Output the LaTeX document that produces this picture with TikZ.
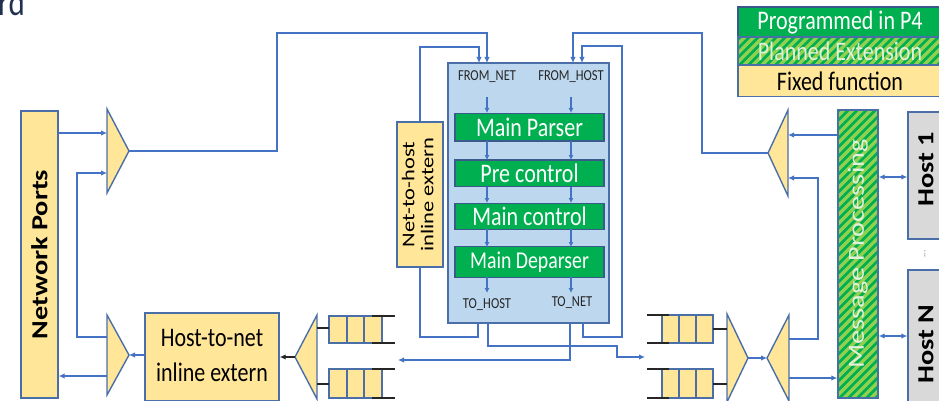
\documentclass[tikz,border=0pt]{standalone}
\usepackage{fontspec}
\setmainfont{Carlito}
\usepackage{graphicx}
\usetikzlibrary{arrows.meta}
\definecolor{ln}{HTML}{4472C4}
\definecolor{fy}{HTML}{FFE699}
\definecolor{gr}{HTML}{00B050}
\definecolor{lg}{HTML}{92D050}
\definecolor{bd}{HTML}{4A6FA8}
\definecolor{gbd}{HTML}{3A5A8C}
\definecolor{cbf}{HTML}{BDD7EE}
\definecolor{hg}{HTML}{D9D9D9}
\definecolor{lbc}{HTML}{262626}
\definecolor{ttl}{HTML}{1F3050}
\definecolor{mpt}{HTML}{E2F0D9}
\newcommand{\hs}[2]{{\fontsize{#1}{#1}\selectfont\scalebox{1}[1.22]{#2}}}
\newcommand{\vs}[2]{\rotatebox{90}{\fontsize{#1}{#1}\selectfont\scalebox{1.23}[1]{#2}}}
\tikzset{
 conn/.style={draw=ln,line width=1.6pt},
 arr/.style={conn,-{Latex[length=6pt,width=5.5pt]}},
 sarr/.style={conn,-{Latex[length=5pt,width=5pt]}},
 fixedbox/.style={draw=bd,fill=fy,line width=1.4pt,inner sep=0pt},
 greenbox/.style={draw=gbd,fill=gr,line width=1.4pt,inner sep=0pt,text=white,minimum width=149pt},
 hostbox/.style={draw=bd,fill=hg,line width=1.4pt,inner sep=0pt},
 tri/.style={fill=fy,draw=bd,line width=1.4pt},
 qcell/.style={fill=fy,draw=bd,line width=1.3pt},
 qend/.style={draw=black!85,line width=1.6pt},
 hatched/.style={fill=gr,draw=bd,line width=1.4pt,inner sep=0pt,
   path picture={\foreach \k in {-300,-291,...,220}{\draw[lg,line width=3.4pt] ([xshift=\k pt]path picture bounding box.south west) -- ++(320pt,320pt);}}},
 lbl/.style={inner sep=0pt,text=lbc},
}
\begin{document}
\begin{tikzpicture}[x=1pt,y=-1pt]
\useasboundingbox (0,0) rectangle (939,401);
\clip (0,0) rectangle (939,401);
% title fragment
\node[anchor=base west,inner sep=0pt,text=ttl] (title) at (-2,16) {\hs{31}{rd}};

% legend
\node[greenbox,minimum width=204pt,minimum height=30pt] (lg1) at (840,22) {\hs{22}{Programmed in P4}};
\node[hatched,minimum width=204pt,minimum height=28pt,text=mpt] (lg2) at (840,51) {\hs{22}{Planned Extension}};
\node[fixedbox,minimum width=204pt,minimum height=31pt] (lg3) at (840,81) {\hs{22}{Fixed function}};

% network ports
\node[fixedbox,minimum width=37pt,minimum height=287pt] (np) at (39.5,254.5) {\vs{23}{\bfseries Network Ports}};

% center box
\node[draw=bd,fill=cbf,line width=1.4pt,minimum width=161pt,minimum height=260pt,inner sep=0pt] (cb) at (528.5,193) {};
\node[lbl] (fnet) at (487,77) {\hs{12.5}{FROM\_NET}};
\node[lbl] (fhost) at (571,77) {\hs{12.5}{FROM\_HOST}};
\node[lbl] (thost) at (487,305) {\hs{12.5}{TO\_HOST}};
\node[lbl] (tnet) at (572,303) {\hs{12.5}{TO\_NET}};
\node[greenbox,minimum height=27.7pt] (mpar) at (529.5,127.2) {\hs{22}{Main Parser}};
\node[greenbox,minimum height=26.7pt] (prc) at (529.5,173.3) {\hs{22}{Pre control}};
\node[greenbox,minimum height=26pt] (mco) at (529.5,216.3) {\hs{22}{Main control}};
\node[greenbox,minimum height=30.6pt] (mdp) at (529.5,262) {\hs{19.8}{Main Deparser}};
\foreach \xx in {487,571}{
  \draw[sarr] (\xx,97) -- (\xx,113);
  \draw[sarr] (\xx,141) -- (\xx,160);
  \draw[sarr] (\xx,187) -- (\xx,203);
  \draw[sarr] (\xx,229) -- (\xx,247);
  \draw[sarr] (\xx,277) -- (\xx,293);
}

% net-to-host
\node[fixedbox,minimum width=46pt,minimum height=145pt] (n2h) at (420,194.5)
  {\rotatebox{90}{\fontsize{18}{19}\selectfont\scalebox{1.25}[1]{\begin{tabular}{@{}c@{}}Net-to-host\\inline extern\end{tabular}}}};

% host-to-net
\node[fixedbox,minimum width=134pt,minimum height=88pt] (h2n) at (212,357)
  {\fontsize{22}{28.7}\selectfont\scalebox{1}[1.22]{\begin{tabular}{@{}c@{}}Host-to-net\\inline extern\end{tabular}}};

% message processing
\node[hatched,minimum width=40pt,minimum height=288pt,text=mpt] (mproc) at (858,254) {\vs{23}{Message Processing}};

% hosts
\node[hostbox,minimum width=38pt,minimum height=127pt] (h1) at (927,175.5) {};
\node[hostbox,minimum width=38pt,minimum height=148pt] (hn) at (927,344) {};
\node[inner sep=0pt] (h1t) at (926,169) {\vs{23}{\bfseries Host 1}};
\node[inner sep=0pt] (hnt) at (926,344) {\vs{23}{\bfseries Host N}};
\node[inner sep=0pt,rotate=90,text=black!60] (dots) at (925,254) {\fontsize{9}{9}\selectfont ...};

% left triangles
\draw[tri] (107,109) -- (129,151) coordinate (tlo) -- (107,193) -- cycle;
\draw[tri] (107,315) -- (129,355) coordinate (bli) -- (107,395) -- cycle;
\draw[tri] (317,315) -- (295,357) coordinate (lmo) -- (317,399) -- cycle;

% left queues
\foreach \yt/\yb in {316/343,369/398}{
  \draw[qcell] (329,\yt) rectangle (347,\yb);
  \draw[qcell] (347,\yt) rectangle (364,\yb);
  \draw[qcell] (364,\yt) rectangle (382,\yb);
  \draw[qend] (372,\yt) -- (395,\yt);
  \draw[qend] (372,\yb) -- (395,\yb);
}
\draw[qend] (317,328) -- (329,328);
\draw[qend] (317,384) -- (329,384);

% right triangles
\draw[tri] (788,110) -- (768,153) coordinate (uro) -- (788,196) -- cycle;
\draw[tri] (727,314) -- (748,358) coordinate (rmo) -- (727,402) -- cycle;
\draw[tri] (789,315) -- (767,358) coordinate (rdi) -- (789,401) -- cycle;

% right queues
\foreach \yt/\yb in {315/343,369/398}{
  \draw[qcell] (662,\yt) rectangle (679,\yb);
  \draw[qcell] (679,\yt) rectangle (696,\yb);
  \draw[qcell] (696,\yt) rectangle (713,\yb);
  \draw[qend] (647,\yt) -- (669,\yt);
  \draw[qend] (647,\yb) -- (669,\yb);
}
\draw[qend] (713,329) -- (727,329);
\draw[qend] (713,384) -- (727,384);

% connectors left side
\draw[arr] (np.east |- 0,133) -- (107,133);
\draw[arr] (107,337) -- (77,337) -- (77,173) -- (107,173);
\draw[arr] (107,376) -- (np.east |- 0,376);
\draw[arr] (h2n.west |- bli) -- (bli);
\draw[qend,-{Latex[length=6pt,width=5.5pt]}] (lmo) -- (h2n.east |- lmo);
\draw[arr] (tlo) -- (277,151) -- (277,33) -- (487,33) -- (487,63);

% net-to-host connectors
\draw[arr] (n2h.north) -- (420,47) -- (479,47) -- (479,63);
\draw[conn] (n2h.south) -- (420,337) -- (478,337) -- (478,323);

% center bottom connectors
\draw[arr] (488,323) -- (488,346) -- (617,346) -- (617,357) -- (645,357);
\draw[arr] (570,323) -- (570,360) -- (398,360);
\draw[arr] (583,323) -- (583,337) -- (622,337) -- (622,46) -- (582,46) -- (582,63);
\draw[arr] (uro) -- (702,153) -- (702,33) -- (573,33) -- (573,63);

% right side connectors
\draw[arr] (mproc.west |- 0,135) -- (788,135);
\draw[arr] (789,339) -- (818,339) -- (818,178) -- (788,178);
\draw[arr] (rmo) -- (rdi);
\draw[arr] (789,378) -- (mproc.west |- 0,378);
\draw[conn,{Latex[length=6pt,width=5.5pt]}-{Latex[length=6pt,width=5.5pt]}] (mproc.east |- 0,177) -- (h1.west |- 0,177);
\draw[conn,{Latex[length=6pt,width=5.5pt]}-{Latex[length=6pt,width=5.5pt]}] (mproc.east |- 0,336) -- (hn.west |- 0,336);
\end{tikzpicture}
\end{document}
